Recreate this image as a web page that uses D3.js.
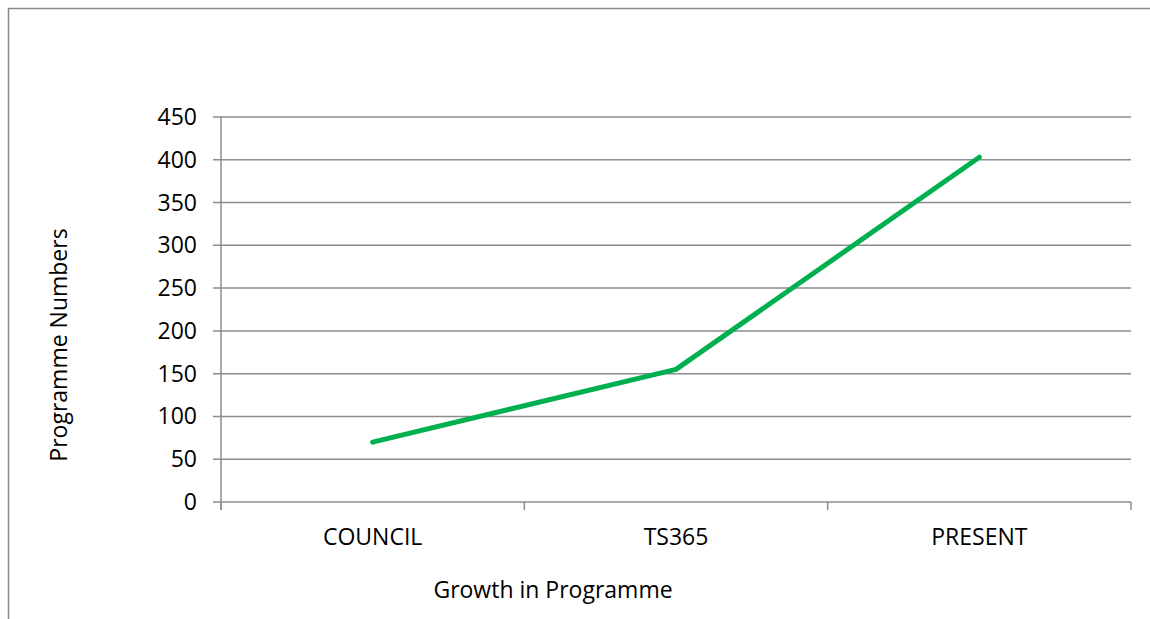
<!DOCTYPE html>
<html><head><meta charset="utf-8">
<script src="https://cdn.jsdelivr.net/npm/d3@7"></script>
<style>body{margin:0;background:#fff;}svg{display:block;}text{font-family:"Open Sans",sans-serif;fill:#000;}</style>
</head><body>
<svg id="c" width="1150" height="619"></svg>
<script>
const categories = ["COUNCIL", "TS365", "PRESENT"];
const values = [70, 155, 403];
const yTicks = [0, 50, 100, 150, 200, 250, 300, 350, 400, 450];
const xTitle = "Growth in Programme";
const yTitle = "Programme Numbers";

const svg = d3.select("#c");
// outer border
svg.append("path").attr("d","M8.5,619 V8.5 H1150").attr("fill","none").attr("stroke","#888").attr("stroke-width",1.5);

const L=221, R=1131, T=117, B=502;
const x = d3.scaleBand().domain(categories).range([L,R]).padding(0);
const y = d3.scaleLinear().domain([0,450]).range([B,T]);

// gridlines
svg.append("g").selectAll("line").data(yTicks).join("line")
  .attr("x1",L-8).attr("x2",R).attr("y1",d=>y(d)).attr("y2",d=>y(d))
  .attr("stroke","#8c8c8c").attr("stroke-width",1.5);
// y axis line
svg.append("line").attr("x1",L).attr("x2",L).attr("y1",T).attr("y2",B+8).attr("stroke","#8c8c8c").attr("stroke-width",1.5);
// x ticks
const xt = categories.map(c=>x(c)).concat([R]);
svg.append("g").selectAll("line").data(xt).join("line")
  .attr("x1",d=>d).attr("x2",d=>d).attr("y1",B).attr("y2",B+8)
  .attr("stroke","#8c8c8c").attr("stroke-width",1.5);
// y tick labels
svg.append("g").selectAll("text").data(yTicks).join("text")
  .attr("x",L-24).attr("y",d=>y(d)).attr("dy","0.35em").attr("text-anchor","end")
  .style("font-size","23px").text(d=>d);
// x labels
svg.append("g").selectAll("text").data(categories).join("text")
  .attr("x",d=>x(d)+x.bandwidth()/2).attr("y",545).attr("text-anchor","middle")
  .style("font-size","23px").text(d=>d);
// titles
svg.append("text").attr("x",553).attr("y",598).attr("text-anchor","middle").style("font-size","23px").text(xTitle);
svg.append("text").attr("transform","translate(67,345) rotate(-90)").attr("text-anchor","middle").style("font-size","23px").text(yTitle);

// line
const line = d3.line().x((d,i)=>x(categories[i])+x.bandwidth()/2).y(d=>y(d));
svg.append("path").attr("d",line(values)).attr("fill","none").attr("stroke","#00b050")
  .attr("stroke-width",5).attr("stroke-linecap","round").attr("stroke-linejoin","round");
</script>
</body></html>
